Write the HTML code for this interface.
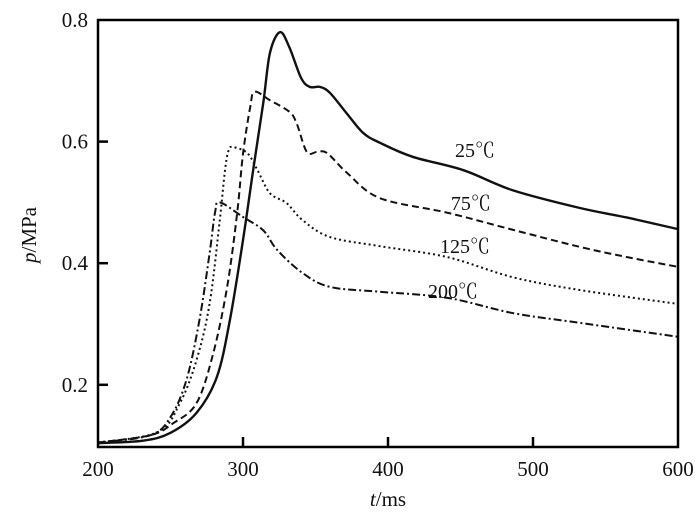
<!DOCTYPE html>
<html><head><meta charset="utf-8"><style>
html,body{margin:0;padding:0;background:#fff;}
svg{display:block;font-family:"Liberation Serif","Noto Serif CJK SC",serif;}
</style></head><body>
<svg id="chart" width="700" height="519"></svg>
<script>
const tickX = [200, 300, 400, 500, 600];
const tickY = [0.2, 0.4, 0.6, 0.8];
const seriesNames = ["25℃", "75℃", "125℃", "200℃"];
const t25 = [200,231,250,268,282,291,300,307,314,318.6,325.5,332,340,346,353,360,372,383,394.5,417,452,486,532,565,600];
const p25 = [0.104,0.108,0.121,0.154,0.213,0.307,0.438,0.553,0.664,0.746,0.78,0.755,0.705,0.69,0.69,0.68,0.645,0.614,0.598,0.575,0.553,0.52,0.491,0.475,0.456];
const t75 = [200,236,252,268,279.5,289,296,300,305,308,318.6,332,337,344,351,358,372,394.5,441,486,532,565,600];
const p75 = [0.105,0.117,0.137,0.17,0.252,0.36,0.483,0.58,0.657,0.682,0.668,0.649,0.63,0.583,0.583,0.581,0.548,0.507,0.483,0.455,0.427,0.41,0.394];
const t125 = [200,241,256.5,268,277,284,287.6,290,293,303,310,318.6,330,341,360,394.5,441,486,532,600];
const p125 = [0.105,0.122,0.17,0.241,0.334,0.471,0.553,0.585,0.591,0.581,0.553,0.515,0.499,0.471,0.443,0.428,0.41,0.377,0.356,0.333];
const t200 = [200,236,250,261,270,277,280.7,284,300,314,323.5,341,360,394.5,441,486,532,600];
const p200 = [0.105,0.117,0.147,0.208,0.307,0.417,0.483,0.5,0.476,0.454,0.422,0.384,0.361,0.353,0.343,0.318,0.302,0.279];
const labelT = [446.2, 443.4, 435.9, 427.6];
const labelP = [0.575, 0.4875, 0.417, 0.343];

const NS = "http://www.w3.org/2000/svg";
const svg = document.getElementById("chart");
const X0 = 98, X1 = 678, Y0 = 447, Y1 = 20;
const xMin = 200, xMax = 600, yMax = 0.8, yMin = 0.8 - (Y0 - Y1) / 608;
function sx(t){ return X0 + (t - xMin) / (xMax - xMin) * (X1 - X0); }
function sy(p){ return Y0 - (p - yMin) / (yMax - yMin) * (Y0 - Y1); }
function mk(tag, attrs){ const e = document.createElementNS(NS, tag); for (const k in attrs) e.setAttribute(k, attrs[k]); svg.appendChild(e); return e; }
function pathFrom(ts, ps){
  const pts = ts.map((t,i)=>[sx(t), sy(ps[i])]);
  let d = "M" + pts[0][0] + "," + pts[0][1];
  for (let i=0;i<pts.length-1;i++){
    const p0 = pts[Math.max(0,i-1)], p1 = pts[i], p2 = pts[i+1], p3 = pts[Math.min(pts.length-1,i+2)];
    const c1 = [p1[0]+(p2[0]-p0[0])/6, p1[1]+(p2[1]-p0[1])/6];
    const c2 = [p2[0]-(p3[0]-p1[0])/6, p2[1]-(p3[1]-p1[1])/6];
    d += " C"+c1[0]+","+c1[1]+" "+c2[0]+","+c2[1]+" "+p2[0]+","+p2[1];
  }
  return d;
}
const series = [[t25,p25,"none"],[t75,p75,"7,4"],[t125,p125,"2,3"],[t200,p200,"8,3,2,3"]];
series.forEach((s,i)=>{
  const e = mk("path", {d: pathFrom(s[0], s[1]), fill:"none", stroke:"#111", "stroke-width": i===0 ? 2.4 : 2, "stroke-dasharray": s[2]});
  
  
  const l = mk("text", {x: sx(labelT[i]), y: sy(labelP[i]), "font-size": 20, fill:"#111"});
  l.textContent = seriesNames[i];
  
  
});
const frame = mk("rect", {x:X0, y:Y1, width:X1-X0, height:Y0-Y1, fill:"none", stroke:"#000", "stroke-width":2.5});


tickX.forEach(v=>{
  if (v!==xMin && v!==xMax){
    const tk = mk("line", {x1:sx(v), x2:sx(v), y1:Y0, y2:Y0-10, stroke:"#000", "stroke-width":2.5});
    
    
  }
  const lb = mk("text", {x:sx(v), y:476, "font-size":21, "text-anchor":"middle", fill:"#111"});
  lb.textContent = v;
  
  
});
tickY.forEach(v=>{
  if (v!==yMax){
    const tk = mk("line", {x1:X0, x2:X0+10, y1:sy(v), y2:sy(v), stroke:"#000", "stroke-width":2.5});
    
    
  }
  const lb = mk("text", {x:88, y:sy(v)+7, "font-size":21, "text-anchor":"end", fill:"#111"});
  lb.textContent = v.toFixed(1);
  
  
});
const xt = mk("text", {x:388, y:506, "font-size":21, "text-anchor":"middle", fill:"#111"});
xt.innerHTML = '<tspan font-style="italic">t</tspan>/ms';


const yt = mk("text", {x:0, y:0, "font-size":21, "text-anchor":"middle", fill:"#111", transform:"translate(36,235) rotate(-90)"});
yt.innerHTML = '<tspan font-style="italic">p</tspan>/MPa';


</script>
</body></html>
